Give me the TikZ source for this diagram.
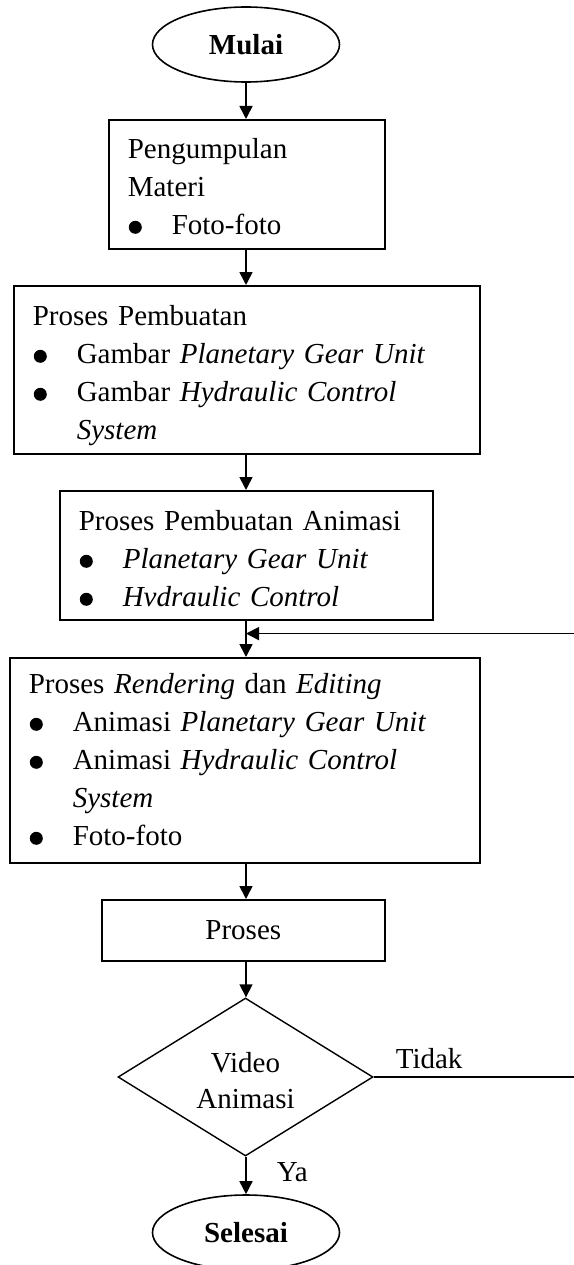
\documentclass[tikz,border=0pt]{standalone}
\usepackage{fontspec}
\setmainfont{Liberation Serif}
\usepackage{tikz}
\usetikzlibrary{positioning, shapes.geometric, arrows.meta}
\newcommand{\titik}{\raisebox{1pt}{\tikz\fill (0,0) circle (6.5pt);}}
\newcommand{\butir}[1]{\makebox[44pt][l]{\hspace{1pt}\titik}#1}
\newcommand{\lanjut}[1]{\makebox[44pt][l]{}#1}

\begin{document}
\begin{tikzpicture}[x=1pt, y=-1pt, every node/.style={font=\fontsize{29}{38}\selectfont},
    kotak/.style={draw, rectangle, line width=1.6pt, align=left, anchor=north west, inner xsep=19pt, inner ysep=0pt},
    terminal/.style={draw, ellipse, line width=1.6pt, minimum width=187pt, minimum height=75pt, inner sep=0pt},
    keputusan/.style={draw, diamond, shape aspect=1.6, line width=1.4pt, minimum width=255pt, minimum height=158pt, inner sep=0pt, align=center},
    panah/.style={-{Triangle[length=13pt,width=13pt]}, line width=1.6pt}]
    \useasboundingbox (0,0) rectangle (573,1265);
    \node[terminal] (mulai) at (246,44.5) {\textbf{Mulai}};
    \node[kotak, text width=238pt, text height=39pt, text depth=90pt] (kumpul) at (108,119)
        {Pengumpulan\\Materi\\\butir{Foto-foto}};
    \node[kotak, text width=428pt, text height=40pt, text depth=128pt] (buat) at (13,285)
        {Proses Pembuatan\\\butir{Gambar \textit{Planetary Gear Unit}}\\\butir{Gambar \textit{Hydraulic Control}}\\\lanjut{\textit{System}}};
    \node[kotak, text width=335pt, text height=40pt, text depth=89pt] (anim) at (59,490)
        {Proses Pembuatan Animasi\\\butir{\textit{Planetary Gear Unit}}\\\butir{\textit{Hvdraulic Control}}};
    \node[kotak, text width=432pt, text height=36pt, text depth=169pt] (render) at (9,657)
        {Proses \textit{Rendering} dan \textit{Editing}\\\butir{Animasi \textit{Planetary Gear Unit}}\\\butir{Animasi \textit{Hydraulic Control}}\\\lanjut{\textit{System}}\\\butir{Foto-foto}};
    \node[kotak, align=center, inner xsep=0pt, minimum width=283pt, minimum height=61pt] (proses) at (101,899) {Proses};
    \node[keputusan, font=\fontsize{29}{36}\selectfont, text height=62pt, text depth=0pt] (video) at (245.5,1077) {Video\\Animasi};
    \node[terminal] (selesai) at (246,1232.5) {\textbf{Selesai}};

    \coordinate (temu) at ([yshift=-13pt]mulai |- anim.south);
    \coordinate (ujung) at (600,1077);

    \draw[panah] (mulai) -- (mulai |- kumpul.north);
    \draw[panah] (mulai |- kumpul.south) -- (mulai |- buat.north);
    \draw[panah] (mulai |- buat.south) -- (mulai |- anim.north);
    \draw[panah] (temu |- anim.south) -- (temu |- render.north);
    \draw[panah] (temu |- render.south) -- (temu |- proses.north);
    \draw[panah] (temu |- proses.south) -- (temu |- video.north);
    \draw[panah] (temu |- video.south) -- node[pos=0.5, anchor=base west, xshift=30pt, yshift=-6.5pt, inner sep=0pt] {Ya} (temu |- selesai.north);
    \draw[panah] (video.east) -- node[pos=0.245, above=7pt, inner sep=0pt] {Tidak} (ujung) |- (temu);
\end{tikzpicture}
\end{document}
